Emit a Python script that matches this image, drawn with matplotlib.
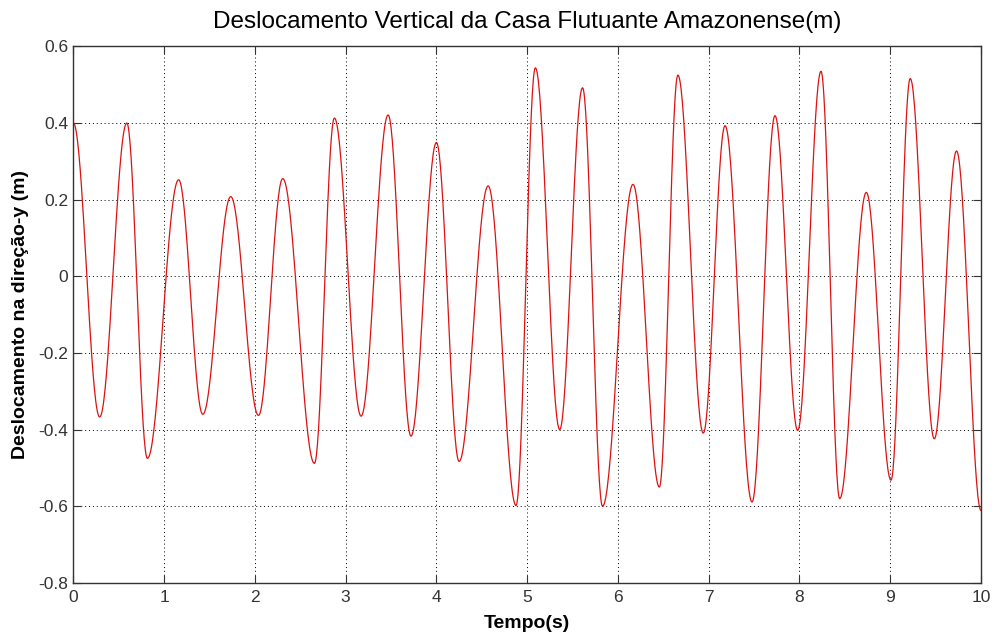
import numpy as np
import matplotlib.pyplot as plt

# extremos (tempo em s, deslocamento em m)
t_ext = [0.0, 0.29, 0.589, 0.816, 1.16, 1.426, 1.734, 2.04, 2.307, 2.656, 2.876, 3.17,
         3.468, 3.72, 4.0, 4.25, 4.57, 4.877, 5.09, 5.358, 5.61, 5.83, 6.166, 6.456,
         6.66, 6.94, 7.18, 7.477, 7.73, 7.98, 8.237, 8.443, 8.736, 9.008, 9.22, 9.485,
         9.73, 10.0]
y_ext = [0.40, -0.367, 0.40, -0.475, 0.252, -0.36, 0.208, -0.363, 0.255, -0.488, 0.413, -0.365,
         0.421, -0.417, 0.349, -0.483, 0.236, -0.598, 0.544, -0.40, 0.492, -0.60, 0.24, -0.55,
         0.525, -0.409, 0.393, -0.589, 0.419, -0.402, 0.535, -0.58, 0.219, -0.532, 0.516, -0.424,
         0.327, -0.611]

x_ticks = list(range(0, 11))
y_ticks = [-0.8, -0.6, -0.4, -0.2, 0, 0.2, 0.4, 0.6]
y_labels = ['-0.8', '-0.6', '-0.4', '-0.2', '0', '0.2', '0.4', '0.6']

# curva suave entre extremos (meia onda de cosseno)
t_plot = []
y_plot = []
for i in range(len(t_ext) - 1):
    s = np.linspace(0, 1, 40)
    t_plot.extend(t_ext[i] + (t_ext[i+1] - t_ext[i]) * s)
    y_plot.extend(y_ext[i] + (y_ext[i+1] - y_ext[i]) * (1 - np.cos(np.pi * s)) / 2)

plt.rcParams['font.family'] = ['Liberation Sans', 'DejaVu Sans']

fig = plt.figure(figsize=(9.98, 6.35), dpi=100)
ax = fig.add_axes([0.0735, 0.082, 0.9095, 0.845])

ax.plot(t_plot, y_plot, color='#dd1111', linewidth=0.9)

ax.set_xlim(0, 10)
ax.set_ylim(-0.8, 0.6)
ax.set_xticks(x_ticks)
ax.set_yticks(y_ticks)
ax.set_yticklabels(y_labels)
ax.grid(True, color='black', linestyle=(0, (1, 3)), linewidth=0.7)
ax.tick_params(direction='in', top=True, right=True, labelsize=12.5, length=6,
               colors='#333333', labelcolor='#333333', pad=3.5)
ax.tick_params(axis='x', pad=5)
for sp in ax.spines.values():
    sp.set_color('#333333')
    sp.set_linewidth(1.0)

ax.set_title('Deslocamento Vertical da Casa Flutuante Amazonense(m)', fontsize=17.5, pad=13)
ax.set_xlabel('Tempo(s)', fontsize=14, fontweight='bold', labelpad=7)
ax.set_ylabel('Deslocamento na direção-y (m)', fontsize=14, fontweight='bold', labelpad=7)

fig.savefig('out.png', dpi=100)
